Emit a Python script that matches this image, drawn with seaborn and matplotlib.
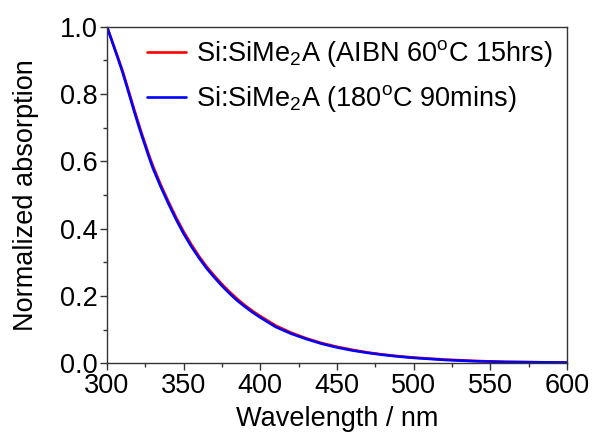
import numpy as np
import pandas as pd
import matplotlib
matplotlib.use("Agg")
import matplotlib.pyplot as plt
import seaborn as sns
from matplotlib.ticker import MultipleLocator
from matplotlib.lines import Line2D

wavelength = [300, 302.5, 305, 307.5, 310, 312.5, 315, 317.5, 320, 322.5, 325, 327.5,
              330, 335, 340, 345, 350, 355, 360, 365, 370, 375, 380, 385, 390, 395,
              400, 410, 420, 430, 440, 450, 460, 470, 480, 490, 500, 520, 540,
              560, 580, 600]
abs_aibn = [1.0, 0.968, 0.936, 0.904, 0.871, 0.834, 0.796, 0.758, 0.721, 0.685, 0.651,
            0.617, 0.586, 0.531, 0.481, 0.434, 0.391, 0.353, 0.318, 0.287, 0.260,
            0.235, 0.212, 0.191, 0.172, 0.155, 0.140, 0.112, 0.091, 0.074, 0.060,
            0.049, 0.040, 0.032, 0.026, 0.021, 0.017, 0.011, 0.007, 0.004, 0.003,
            0.002]
abs_180 = [1.0, 0.967, 0.934, 0.901, 0.867, 0.829, 0.791, 0.752, 0.715, 0.679, 0.645,
           0.611, 0.579, 0.525, 0.475, 0.428, 0.385, 0.347, 0.313, 0.282, 0.255,
           0.230, 0.207, 0.186, 0.168, 0.151, 0.136, 0.108, 0.088, 0.072, 0.058,
           0.047, 0.038, 0.031, 0.025, 0.020, 0.016, 0.010, 0.006, 0.004, 0.003,
           0.002]
labels = ["Si:SiMe$_2$A (AIBN 60$^{\\mathrm{o}}$C 15hrs)",
          "Si:SiMe$_2$A (180$^{\\mathrm{o}}$C 90mins)"]
colors = ["#ff0000", "#0000ff"]

df = pd.DataFrame({
    "wl": wavelength + wavelength,
    "a": abs_aibn + abs_180,
    "s": [labels[0]] * len(wavelength) + [labels[1]] * len(wavelength),
})

sns.set_theme(style="ticks")
plt.rcParams["font.family"] = ["Liberation Sans", "DejaVu Sans"]
plt.rcParams["mathtext.fontset"] = "custom"
plt.rcParams["mathtext.rm"] = "Liberation Sans"
plt.rcParams["mathtext.it"] = "Liberation Sans:italic"
plt.rcParams["text.color"] = "black"
plt.rcParams["axes.labelcolor"] = "black"
plt.rcParams["xtick.color"] = "black"
plt.rcParams["ytick.color"] = "black"

fig = plt.figure(figsize=(5.92, 4.34), dpi=100)
ax = fig.add_axes([0.1807, 0.163, 0.777, 0.7755])
sns.lineplot(data=df, x="wl", y="a", hue="s", palette=dict(zip(labels, colors)),
             linewidth=1.9, ax=ax, legend=False)

ax.set_xlim(300, 600)
ax.set_ylim(0, 1.0)
ax.xaxis.set_major_locator(MultipleLocator(50))
ax.xaxis.set_minor_locator(MultipleLocator(25))
ax.yaxis.set_major_locator(MultipleLocator(0.2))
ax.yaxis.set_minor_locator(MultipleLocator(0.1))
ax.set_yticks(ax.get_yticks())
ax.set_yticklabels([f"{v:.1f}" for v in ax.get_yticks()])
ax.set_ylim(0, 1.0)
ax.tick_params(which="major", direction="out", length=5, width=1, labelsize=19.5,
               color="#333333", labelcolor="black", pad=2)
ax.tick_params(which="minor", direction="out", length=3, width=1, color="#333333")
for sp in ax.spines.values():
    sp.set_color("#333333")
    sp.set_linewidth(1.0)
    sp.set_visible(True)
ax.set_xlabel("Wavelength / nm", fontsize=19.5, labelpad=5)
ax.set_ylabel("Normalized absorption", fontsize=19.5, labelpad=15)

handles = [Line2D([], [], color=c, lw=1.9) for c in colors]
ax.legend(handles, labels, loc="upper left", bbox_to_anchor=(0.087, 0.965),
          frameon=False, fontsize=19.5, handlelength=1.45, handletextpad=0.35,
          labelspacing=0.5, borderpad=0, borderaxespad=0)

fig.savefig("out.png", dpi=100)
